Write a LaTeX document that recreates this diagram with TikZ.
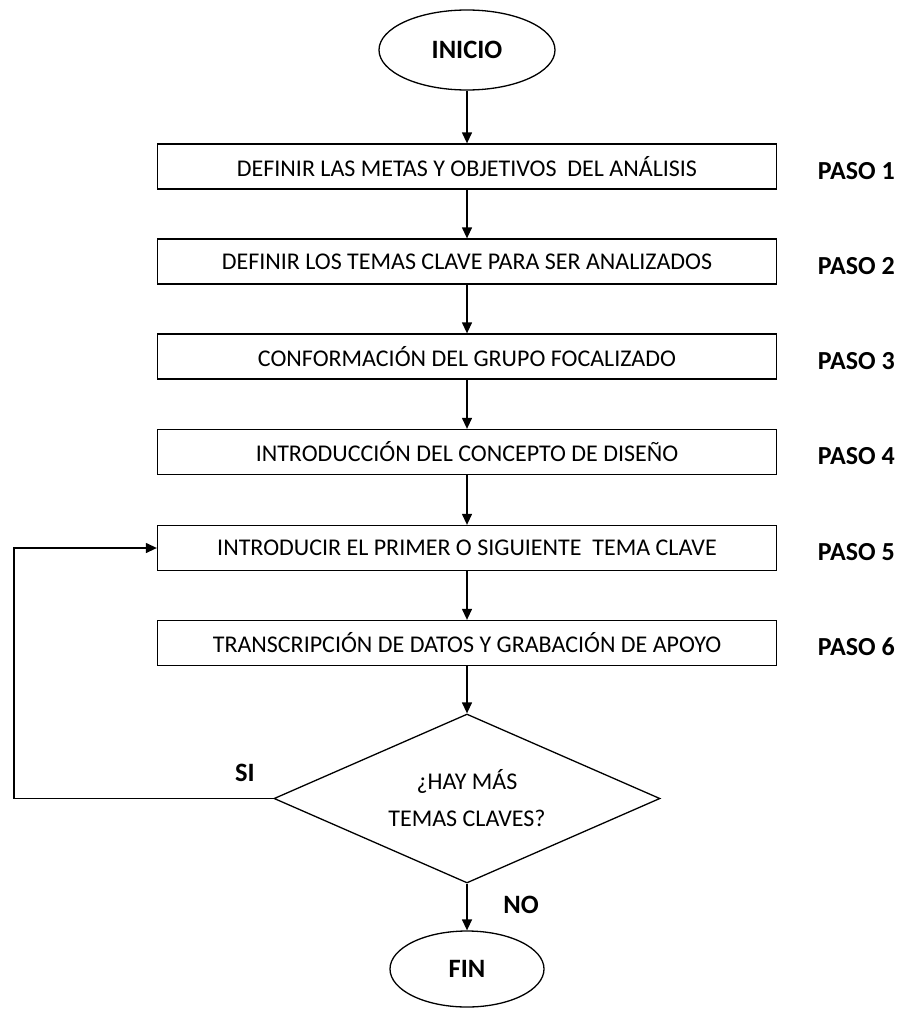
\documentclass[tikz,border=0pt]{standalone}
\usepackage{fontspec}
\setmainfont{Carlito}
\usetikzlibrary{shapes.geometric,arrows.meta}
\begin{document}
\begin{tikzpicture}[x=1pt,y=-1pt,
  line width=1.3pt,
  stepbox/.style={draw, rectangle, minimum width=619pt, minimum height=45pt, inner sep=0pt, font=\fontsize{24}{28}\selectfont},
  term/.style={draw, ellipse, inner sep=0pt, font=\bfseries\fontsize{26.5}{30}\selectfont},
  decis/.style={draw, diamond, shape aspect=2.28, inner sep=0pt, minimum width=386pt, minimum height=169pt, align=center, font=\fontsize{24}{37}\selectfont},
  paso/.style={anchor=west, font=\bfseries\fontsize{26}{30}\selectfont},
  lbl/.style={font=\bfseries\fontsize{26.5}{30}\selectfont},
  arr/.style={-{Triangle[length=11pt,width=10pt]}}
]
\useasboundingbox (0,0) rectangle (902,1009);
\node[term, minimum width=176pt, minimum height=80pt] (inicio) at (467,50) {INICIO};
\node[stepbox] (b1) at (467,166.5) {DEFINIR LAS METAS Y OBJETIVOS \ DEL ANÁLISIS};
\node[stepbox] (b2) at (467,261.5) {DEFINIR LOS TEMAS CLAVE PARA SER ANALIZADOS};
\node[stepbox] (b3) at (467,356.5) {CONFORMACIÓN DEL GRUPO FOCALIZADO};
\node[stepbox] (b4) at (467,452) {INTRODUCCIÓN DEL CONCEPTO DE DISEÑO};
\node[stepbox] (b5) at (467,548) {INTRODUCIR EL PRIMER O SIGUIENTE \ TEMA CLAVE};
\node[stepbox] (b6) at (467,643) {TRANSCRIPCIÓN DE DATOS Y GRABACIÓN DE APOYO};
\node[decis] (dec) at (467,798.5) {¿HAY MÁS\\TEMAS CLAVES?};
\node[term, minimum width=154pt, minimum height=76pt] (fin) at (467,969) {FIN};
\node[paso] (p1) at (814,171) {PASO 1};
\node[paso] (p2) at (814,266) {PASO 2};
\node[paso] (p3) at (814,361) {PASO 3};
\node[paso] (p4) at (814,456) {PASO 4};
\node[paso] (p5) at (814,552) {PASO 5};
\node[paso] (p6) at (814,647) {PASO 6};
\node[lbl] (si) at (245,773) {SI};
\node[lbl] (no) at (521,905) {NO};
\coordinate (lp) at (14,798.5);
\draw[arr] (inicio) -- (b1);
\draw[arr] (b1) -- (b2);
\draw[arr] (b2) -- (b3);
\draw[arr] (b3) -- (b4);
\draw[arr] (b4) -- (b5);
\draw[arr] (b5) -- (b6);
\draw[arr] (b6) -- (dec.north);
\draw[arr] (dec.south) -- (fin);
\draw[arr] (dec.west) -- (lp) |- (b5.west);
\end{tikzpicture}
\end{document}
